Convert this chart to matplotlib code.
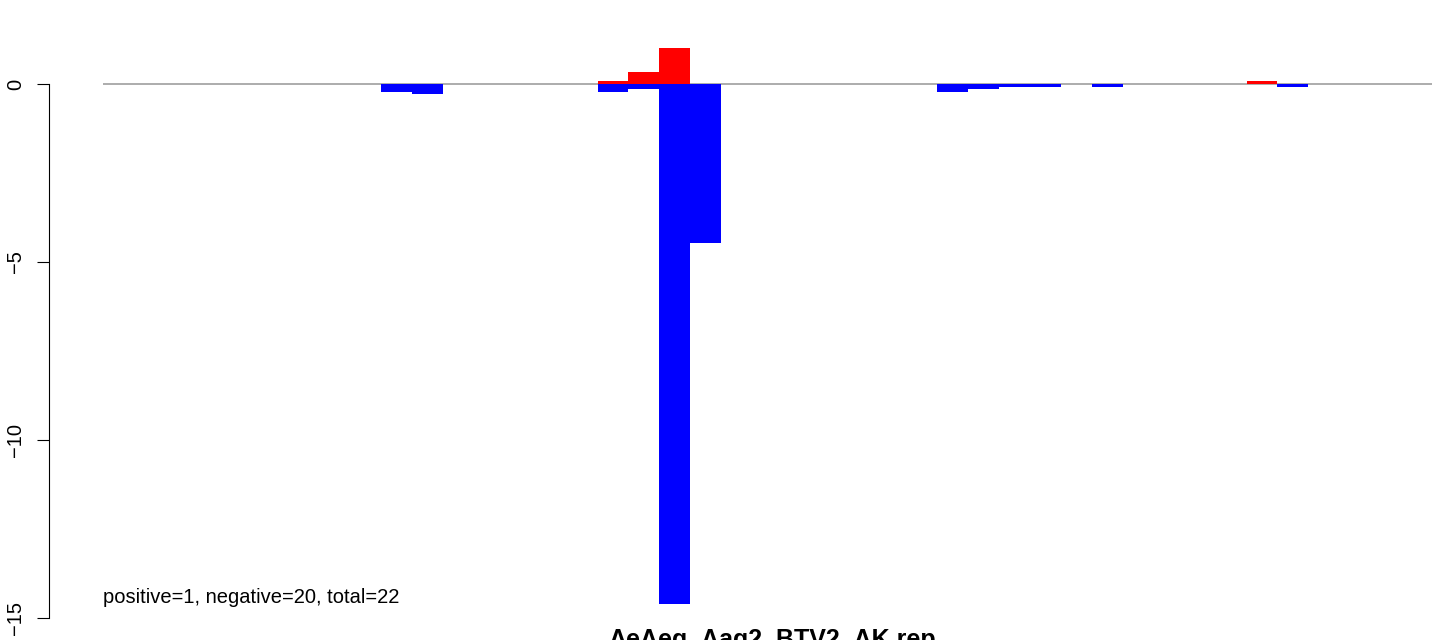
import matplotlib

matplotlib.use('Agg')
import matplotlib.pyplot as plt

plt.rcParams['font.family'] = ['Liberation Sans', 'DejaVu Sans']

# bar slots (0..42), up = red, down = blue
n_slots = 43
up_pos = [16, 17, 18, 37]
up_val = [0.07, 0.33, 1.01, 0.08]
down_pos = [9, 10, 16, 17, 18, 19, 27, 28, 29, 30, 32, 38]
down_val = [-0.22, -0.27, -0.23, -0.13, -14.6, -4.46, -0.22, -0.13, -0.08, -0.08, -0.08, -0.08]

yticks = [0, -5, -10, -15]
ytick_labels = ['0', '\u22125', '\u221210', '\u221215']
note = "positive=1, negative=20, total=22"
title = "AeAeg_Aag2_BTV2_AK.rep"

W, H = 1444, 640
fig = plt.figure(figsize=(W / 100, H / 100), dpi=100)

# plot region in pixels
px_left, px_right = 103, 1432
px_top, px_bot = 26.3, 625.8
ax = fig.add_axes([px_left / W, 1 - px_bot / H, (px_right - px_left) / W, (px_bot - px_top) / H])
ax.set_xlim(0, n_slots)
ax.set_ylim(-15.22, 1.62)

ax.axhline(0, color='#a6a6a6', lw=1.3, zorder=1)
ax.bar(up_pos, up_val, width=1, align='edge', color='#ff0000', linewidth=0, zorder=2)
ax.bar(down_pos, down_val, width=1, align='edge', color='#0000ff', linewidth=0, zorder=2)

for s in ['top', 'right', 'bottom']:
    ax.spines[s].set_visible(False)
ax.spines['left'].set_position(('outward', 54 * 72 / 100))
ax.spines['left'].set_bounds(-15, 0)
ax.spines['left'].set_linewidth(0.8)
ax.set_xticks([])
ax.set_yticks(yticks)
ax.set_yticklabels(ytick_labels, rotation=90, va='center', fontsize=14.5)
ax.tick_params(axis='y', length=9, width=0.8, pad=8)

fig.text(px_left / W, 1 - 603 / H, note, fontsize=14.5, va='baseline', ha='left')
fig.text(772 / W, 1 - 628 / H, title, fontsize=18,
         fontweight='bold', va='top', ha='center')

fig.savefig('out.png', dpi=100)
